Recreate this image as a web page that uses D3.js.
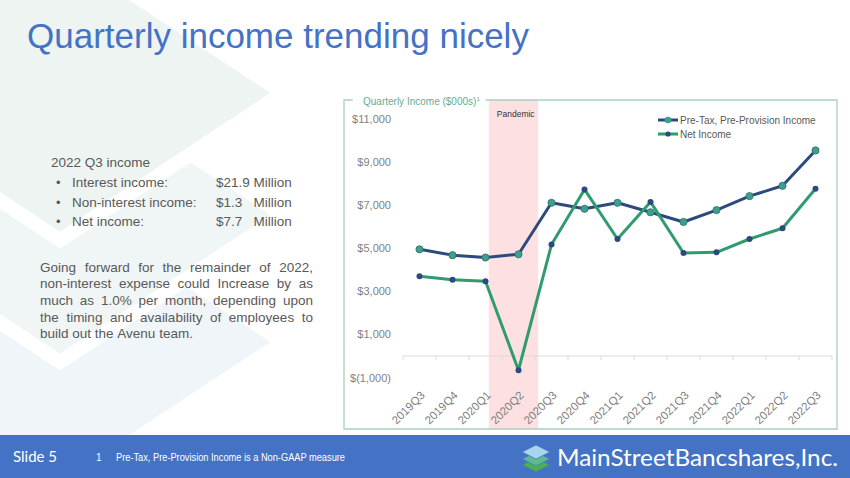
<!DOCTYPE html>
<meta charset="utf-8">
<style>
body { margin: 0; background: #fff; }
svg { display: block; font-family: "Liberation Sans", Arial, sans-serif; }
.axis text { fill: #7f7f7f; font-size: 11px; }
</style>
<svg width="850" height="478"></svg>
<script src="https://d3js.org/d3.v7.min.js"></script>
<script>
// chart data
var quarters = ["2019Q3", "2019Q4", "2020Q1", "2020Q2", "2020Q3", "2020Q4", "2021Q1",
                "2021Q2", "2021Q3", "2021Q4", "2022Q1", "2022Q2", "2022Q3"];
var preTax = [4950, 4680, 4570, 4720, 7110, 6830, 7110, 6670, 6220, 6770, 7420, 7900, 9540];
var netIncome = [3700, 3540, 3470, -660, 5170, 7730, 5430, 7150, 4780, 4810, 5430, 5930, 7760];
var seriesNames = ["Pre-Tax, Pre-Provision Income", "Net Income"];
var yTicks = [-1000, 1000, 3000, 5000, 7000, 9000, 11000];
var pandemicSpan = [2.1, 3.6];   // in quarter index units

// side text
var q3Items = ["Interest income:", "Non-interest income:", "Net income:"];
var q3Values = ["$21.9 Million", "$1.3   Million", "$7.7   Million"];
var paraLines = ["Going forward for the remainder of 2022,",
                 "non-interest expense could Increase by as",
                 "much as 1.0% per month, depending upon",
                 "the timing and availability of employees to",
                 "build out the Avenu team."];

var svg = d3.select("svg");
var blue = "#4472c4", navy = "#2c4a7e", green = "#2f9b6f", teal = "#3e9f8a";

// faint background chevrons
var bg = svg.append("g");
[[342, "#eff5f8"], [215, "#f0f5f5"], [93, "#edf4f1"]].forEach(function(d) {
  var cx = 60, cy = d[0], hw = 223, hh = 147;
  bg.append("polygon")
    .attr("points", [[cx, cy - hh], [cx + hw, cy], [cx, cy + hh], [cx - hw, cy]].join(" "))
    .attr("fill", d[1])
    .attr("stroke", "#fff")
    .attr("stroke-width", 14);
});

// title
svg.append("text")
  .attr("x", 27).attr("y", 48)
  .attr("fill", blue)
  .style("font-size", "35px")
  .text("Quarterly income trending nicely");

// left text block
var left = svg.append("g").attr("fill", "#595959").style("font-size", "13.5px");
left.append("text").attr("x", 51).attr("y", 167).text("2022 Q3 income");
q3Items.forEach(function(t, i) {
  var yy = 187 + i * 19.7;
  left.append("text").attr("x", 56).attr("y", yy).style("font-size", "13px").text("•");
  left.append("text").attr("x", 72).attr("y", yy).text(t);
  left.append("text").attr("x", 216).attr("y", yy).attr("xml:space", "preserve").text(q3Values[i]);
});

// justified paragraph
var px0 = 40, px1 = 313;
paraLines.forEach(function(line, i) {
  var yy = 271.5 + i * 16.7;
  var words = line.split(" ");
  var nodes = words.map(function(w) {
    return left.append("text").attr("y", yy).text(w);
  });
  var widths = nodes.map(function(n) { return n.node().getComputedTextLength(); });
  var total = d3.sum(widths);
  var gap = (i === paraLines.length - 1) ? 3.75 : (px1 - px0 - total) / (words.length - 1);
  var cur = px0;
  nodes.forEach(function(n, j) {
    n.attr("x", cur);
    cur += widths[j] + gap;
  });
});

// chart
var x = d3.scaleBand().domain(quarters).range([403, 832]);
var xi = d3.scaleLinear().domain([-0.5, quarters.length - 0.5]).range([403, 832]);
var y = d3.scaleLinear().domain([-1000, 11000]).range([377.5, 119]);
var cx = function(q) { return x(q) + x.bandwidth() / 2; };

var frameColor = "#a9d0c1";

// pandemic shading
svg.append("rect")
  .attr("x", xi(pandemicSpan[0])).attr("y", 100)
  .attr("width", xi(pandemicSpan[1]) - xi(pandemicSpan[0])).attr("height", 329)
  .attr("fill", "#fde1e2");
svg.append("text")
  .attr("x", xi(pandemicSpan[0]) + 8).attr("y", 117)
  .attr("fill", "#333").style("font-size", "8.5px")
  .text("Pandemic");

// frame with title gap
svg.append("path")
  .attr("d", "M352.7,100 H344 V429 H837 V100 H485.7")
  .attr("fill", "none").attr("stroke", frameColor).attr("stroke-width", 1.3);
var ft = svg.append("text")
  .attr("x", 363).attr("y", 104.5)
  .attr("fill", "#62ad93").style("font-size", "10px")
  .text("Quarterly Income ($000s)");
ft.append("tspan").attr("dy", -4).style("font-size", "6px").text("1");

// y axis
var fmt = function(v) {
  return v < 0 ? "$(" + d3.format(",")(-v) + ")" : "$" + d3.format(",")(v);
};
svg.append("g").attr("class", "axis")
  .attr("transform", "translate(394,0)")
  .call(d3.axisLeft(y).tickValues(yTicks).tickFormat(fmt).tickSize(0).tickPadding(3))
  .call(function(g) { g.select(".domain").remove(); });

// x axis at zero with boundary ticks
var xa = svg.append("g").attr("stroke", "#d9d9d9").attr("stroke-width", 1);
xa.append("line").attr("x1", 403).attr("x2", 832).attr("y1", y(0)).attr("y2", y(0));
d3.range(quarters.length + 1).forEach(function(i) {
  xa.append("line")
    .attr("x1", xi(i - 0.5)).attr("x2", xi(i - 0.5))
    .attr("y1", y(0)).attr("y2", y(0) + 4);
});
svg.append("g").attr("class", "axis")
  .selectAll("text").data(quarters).enter().append("text")
  .attr("text-anchor", "end")
  .style("font-size", "11.5px")
  .attr("transform", function(d) { return "translate(" + (cx(d) + 6) + ",396) rotate(-45)"; })
  .text(function(d) { return d; });

// lines
var line = d3.line()
  .x(function(d, i) { return cx(quarters[i]); })
  .y(function(d) { return y(d); });

svg.append("path").datum(preTax)
  .attr("d", line).attr("fill", "none")
  .attr("stroke", navy).attr("stroke-width", 3).attr("stroke-linejoin", "round");
svg.append("g").selectAll("circle").data(preTax).enter().append("circle")
  .attr("cx", function(d, i) { return cx(quarters[i]); })
  .attr("cy", function(d) { return y(d); })
  .attr("r", 3.6).attr("fill", teal).attr("stroke", "#2b6f70").attr("stroke-width", 0.8);

svg.append("path").datum(netIncome)
  .attr("d", line).attr("fill", "none")
  .attr("stroke", green).attr("stroke-width", 3).attr("stroke-linejoin", "round");
svg.append("g").selectAll("circle").data(netIncome).enter().append("circle")
  .attr("cx", function(d, i) { return cx(quarters[i]); })
  .attr("cy", function(d) { return y(d); })
  .attr("r", 3).attr("fill", navy);

// legend
var legend = svg.append("g");
seriesNames.forEach(function(name, i) {
  var ly = 120 + i * 14;
  var lc = i === 0 ? navy : green;
  legend.append("line").attr("x1", 658).attr("x2", 678).attr("y1", ly).attr("y2", ly)
    .attr("stroke", lc).attr("stroke-width", 3);
  legend.append("circle").attr("cx", 668).attr("cy", ly)
    .attr("r", i === 0 ? 3.3 : 2.6).attr("fill", i === 0 ? teal : navy);
  legend.append("text").attr("x", 680).attr("y", ly).attr("dy", "0.35em")
    .attr("fill", "#595959").style("font-size", "10px").text(name);
});

// footer
svg.append("rect").attr("x", 0).attr("y", 435).attr("width", 850).attr("height", 43).attr("fill", blue);
svg.append("text").attr("x", 13).attr("y", 462).attr("fill", "#fff")
  .style("font-family", "Lato, sans-serif").style("font-size", "15px").text("Slide 5");
svg.append("text").attr("x", 96).attr("y", 461).attr("fill", "#fff")
  .style("font-family", "'Liberation Sans Narrow', 'Arial Narrow', sans-serif").style("font-size", "10px")
  .text("1");
svg.append("text").attr("x", 116).attr("y", 461).attr("fill", "#fff")
  .style("font-family", "'Liberation Sans Narrow', 'Arial Narrow', sans-serif").style("font-size", "10px")
  .attr("textLength", 229).attr("lengthAdjust", "spacingAndGlyphs")
  .text("Pre-Tax, Pre-Provision Income is a Non-GAAP measure");

// logo mark
var logo = svg.append("g");
[[465, "#4caf50"], [459, "#5dbb8e"], [452, "#a9d5ef"]].forEach(function(d) {
  var lx = 536, ly = d[0];
  logo.append("polygon")
    .attr("points", [[lx - 14, ly], [lx, ly - 7], [lx + 14, ly], [lx, ly + 7]].join(" "))
    .attr("fill", d[1]).attr("stroke", blue).attr("stroke-width", 0.8);
});
svg.append("text").attr("x", 557).attr("y", 465.5).attr("fill", "#fff")
  .style("font-family", "Lato, sans-serif").style("font-size", "23px")
  .attr("textLength", 281).attr("lengthAdjust", "spacingAndGlyphs")
  .text("MainStreetBancshares,Inc.");
</script>
